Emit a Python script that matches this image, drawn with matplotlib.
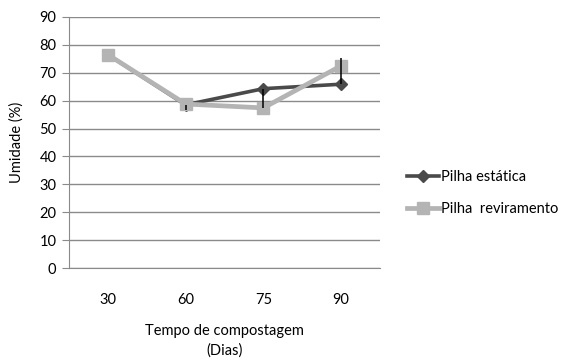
import matplotlib
matplotlib.use("Agg")
import matplotlib.pyplot as plt

plt.rcParams["font.family"] = ["Lato", "DejaVu Sans"]

dias = ["30", "60", "75", "90"]
estatica = [76.5, 58.5, 64.3, 65.9]
reviramento = [76.5, 58.8, 57.4, 72.5]
# asymmetric deviations on the static pile
err_baixo = [0, 2.0, 7.0, 0]
err_cima = [0, 0, 0, 9.5]

fig = plt.figure(figsize=(5.63, 3.61), dpi=100)
ax = fig.add_axes([69 / 563, 1 - 268 / 361, 311 / 563, 251 / 361])

x = range(len(dias))
ax.plot(x, estatica, color="#4a4a4a", lw=2.6, marker="D", ms=6,
        label="Pilha estática", zorder=3)
ax.plot(x, reviramento, color="#b4b4b4", lw=3.4, marker="s", ms=9,
        label="Pilha  reviramento", zorder=4)
ax.errorbar(x, estatica, yerr=[err_baixo, err_cima], fmt="none",
            ecolor="black", elinewidth=1.1, capsize=0, zorder=5)

ax.set_xlim(-0.5, 3.5)
ax.set_ylim(0, 90)
ax.set_yticks(range(0, 91, 10))
ax.set_xticks(list(x))
ax.set_xticklabels(dias)
ax.yaxis.grid(True, color="#8a8a8a", lw=1)
ax.set_axisbelow(True)
for s in ["top", "right"]:
    ax.spines[s].set_visible(False)
for s in ["left", "bottom"]:
    ax.spines[s].set_color("#8a8a8a")
ax.tick_params(axis="y", length=5, color="#8a8a8a", labelsize=10.5, pad=4)
ax.tick_params(axis="x", length=0, labelsize=10.5, pad=18)

ax.set_ylabel("Umidade (%)", fontsize=10.5, labelpad=11)
ax.set_xlabel("Tempo de compostagem\n(Dias)", fontsize=10.5, labelpad=12,
              linespacing=1.5)

fig.legend(loc="upper left", bbox_to_anchor=(394 / 563, 1 - 157 / 361),
           frameon=False, fontsize=10.5, handlelength=2.2, handletextpad=0.1,
           labelspacing=1.2)

fig.savefig("out.png", dpi=100)
